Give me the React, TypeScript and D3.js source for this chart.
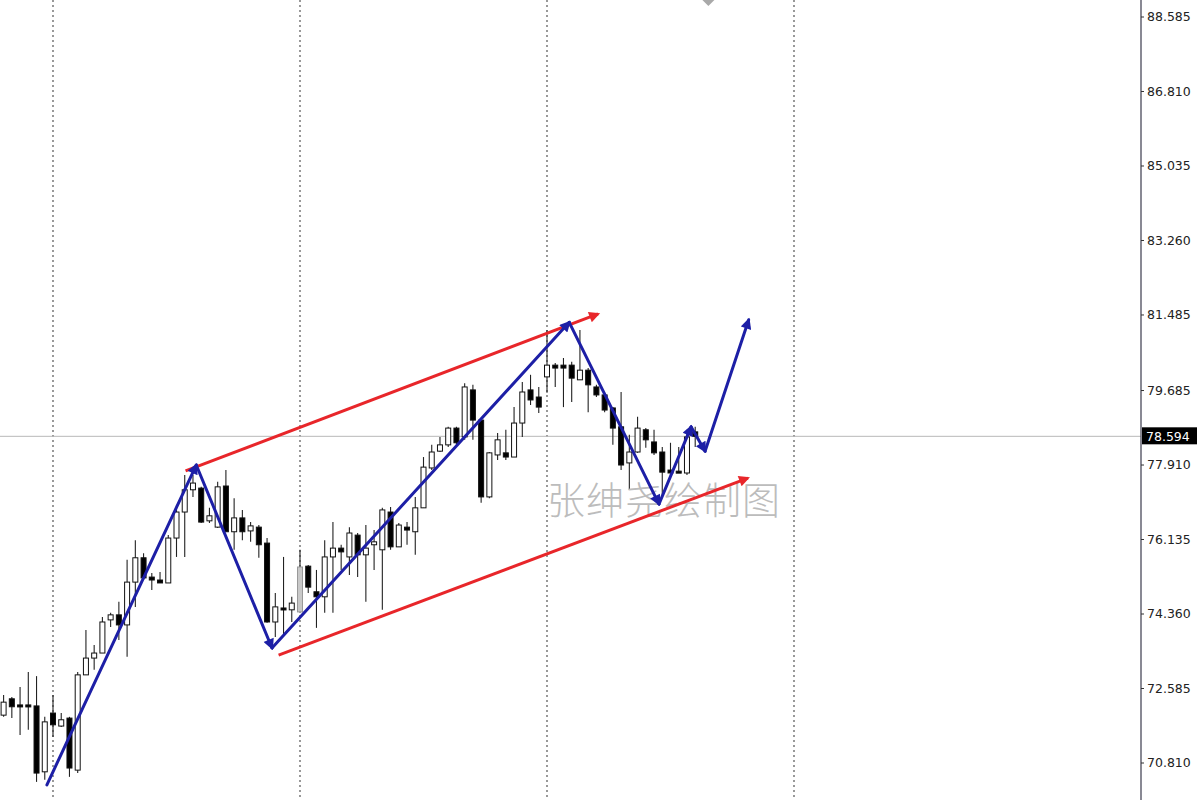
import React from 'react';
import * as d3 from 'd3';

const W = 1200;
const H = 800;

// Daily bars, oldest first
const opens = [
  71.95, 72.34, 72.19, 72.18, 72.17, 70.60, 72.00, 71.69, 71.88, 70.64,
  72.91, 73.31, 73.43, 74.22, 74.34, 74.10, 75.12, 75.70, 75.24, 75.17,
  75.10, 76.17, 76.79, 77.32, 77.36, 76.58, 76.43, 77.41, 76.32, 76.65,
  76.34, 76.43, 76.05, 74.17, 74.50, 74.46, 74.41, 75.50, 74.89, 74.77,
  75.72, 75.93, 75.72, 76.24, 75.77, 76.01, 75.89, 76.79, 75.96, 76.43,
  76.32, 76.89, 77.84, 78.24, 78.39, 78.79, 78.58, 79.70, 78.98, 77.15,
  78.15, 78.20, 78.10, 78.91, 79.70, 79.53, 80.01, 80.29, 80.29, 80.29,
  79.94, 80.17, 79.77, 79.58, 79.27, 78.82, 77.96, 78.22, 78.75, 78.46,
  78.22, 77.79, 77.75, 77.72, 78.70,
];
const highs = [
  72.43, 72.38, 72.62, 72.98, 72.88, 71.91, 72.43, 72.00, 71.91, 72.98,
  73.98, 73.62, 74.29, 74.39, 74.65, 75.65, 76.12, 75.81, 75.34, 75.36,
  76.24, 76.96, 77.67, 77.67, 77.39, 76.89, 77.51, 77.79, 77.12, 76.84,
  76.55, 76.48, 76.17, 74.86, 75.72, 74.77, 75.89, 75.53, 75.41, 76.12,
  76.55, 76.01, 76.43, 76.29, 76.48, 76.36, 76.89, 76.91, 76.53, 76.55,
  77.15, 78.10, 78.39, 78.58, 78.82, 78.82, 79.86, 79.82, 79.03, 78.22,
  78.67, 78.75, 79.29, 79.89, 80.06, 79.77, 81.13, 80.34, 80.46, 80.37,
  81.13, 80.22, 79.82, 79.63, 79.29, 79.65, 78.63, 79.06, 78.79, 78.75,
  78.34, 78.44, 78.34, 78.75, 78.82,
];
const lows = [
  71.91, 71.88, 71.48, 71.60, 70.36, 70.41, 71.43, 71.67, 70.48, 70.57,
  72.91, 73.03, 73.43, 74.05, 73.74, 73.34, 74.53, 75.17, 74.93, 75.10,
  75.10, 75.72, 75.72, 77.15, 76.53, 76.53, 76.41, 76.32, 75.89, 76.12,
  76.08, 75.70, 74.15, 73.81, 73.86, 74.17, 74.39, 74.86, 74.03, 74.39,
  74.39, 75.41, 75.29, 75.24, 74.65, 75.41, 74.46, 75.89, 75.96, 76.01,
  75.77, 76.89, 77.79, 78.22, 78.34, 78.39, 78.51, 78.51, 77.01, 77.12,
  78.03, 78.03, 78.10, 78.58, 79.34, 79.15, 79.63, 79.77, 79.29, 79.41,
  79.94, 79.17, 79.53, 79.17, 78.39, 77.79, 77.32, 78.20, 78.32, 78.15,
  77.15, 77.63, 77.72, 77.67, 78.34,
];
const closes = [
  72.26, 72.15, 72.15, 72.16, 70.57, 71.79, 71.72, 71.84, 70.69, 72.91,
  73.31, 73.43, 74.17, 74.34, 74.10, 75.12, 75.70, 75.22, 75.17, 75.10,
  76.17, 76.79, 77.32, 77.48, 76.55, 76.70, 77.39, 76.32, 76.65, 76.32,
  76.46, 76.01, 74.17, 74.53, 74.46, 74.62, 75.48, 75.00, 74.77, 75.72,
  75.93, 75.84, 76.29, 75.77, 75.93, 76.08, 76.84, 75.96, 76.48, 76.36,
  76.89, 77.86, 78.22, 78.39, 78.79, 78.44, 79.77, 78.98, 77.15, 78.20,
  78.51, 78.10, 78.91, 79.65, 79.46, 79.29, 80.29, 80.22, 80.22, 79.98,
  80.17, 79.82, 79.58, 79.22, 78.79, 77.91, 78.22, 78.79, 78.51, 78.20,
  77.74, 77.72, 77.73, 78.58, 78.594,
];
// bars drawn with a grey body (selected bar)
const greyBars = [36];

// price axis labels
const priceTicks = [88.585, 86.81, 85.035, 83.26, 81.485, 79.685, 77.91, 76.135, 74.36, 72.585, 70.81];
const lastPrice = 78.594;

// vertical period separators (bar index)
const separators = [6, 36, 66, 96];

// object marker above the chart (bar index)
const markerIdx = 85.6;

// wave path (bar index, price)
const waveIdx = [5.26, 23.4, 32.6, 68.7, 79.6, 83.5, 85.2, 90.5];
const wavePrice = [70.29, 77.91, 73.55, 81.31, 76.98, 78.82, 78.24, 81.37];

// channel lines
const upperIdx = [22.1, 72.2];
const upperPrice = [77.77, 81.51];
const lowerIdx = [33.4, 90.4];
const lowerPrice = [73.38, 77.6];

const watermark = '张绅尧绘制图';

const x = d3.scaleLinear().domain([6, 96]).range([53, 794]);
const y = d3.scaleLinear().domain([70.81, 88.585]).range([763, 17]);

const AXIS_X = 1141;
const BODY_W = 5;
const BLUE = '#1d1fa6';
const RED = '#e8262a';

export default function App() {
  const fmt = d3.format('.3f');
  const wavePts = waveIdx.map((v, i) => [x(v), y(wavePrice[i])]);
  const segs = wavePts.slice(1).map((p, i) => [wavePts[i], p]);
  const mx = x(markerIdx);

  return (
    <svg
      width={W}
      height={H}
      viewBox={`0 0 ${W} ${H}`}
      style={{ position: 'absolute', left: 0, top: 0, background: '#fff' }}
    >
      <defs>
        <marker id="blueHead" viewBox="0 0 10 10" refX="8" refY="5" markerUnits="userSpaceOnUse"
          markerWidth="13" markerHeight="11" orient="auto">
          <path d="M0,0 L10,5 L0,10 z" fill={BLUE} />
        </marker>
        <marker id="redHead" viewBox="0 0 10 10" refX="8" refY="5" markerUnits="userSpaceOnUse"
          markerWidth="15" markerHeight="11" orient="auto">
          <path d="M0,0 L10,5 L0,10 z" fill={RED} />
        </marker>
      </defs>
      <rect x={0} y={0} width={W} height={H} fill="#fff" />

      {/* period separators */}
      {separators.map((s) => (
        <line key={s} x1={x(s)} x2={x(s)} y1={0} y2={H} stroke="#555" strokeWidth={1.2}
          strokeDasharray="2,3" />
      ))}

      {/* last price line */}
      <line x1={0} x2={AXIS_X} y1={y(lastPrice)} y2={y(lastPrice)} stroke="#b8b8b8" strokeWidth={1} />

      {/* bars */}
      {opens.map((o, i) => {
        const c = closes[i];
        const cx = x(i);
        const top = y(Math.max(o, c));
        const bot = y(Math.min(o, c));
        const up = c >= o;
        const grey = greyBars.includes(i);
        const bh = Math.max(bot - top, 2);
        return (
          <g key={i}>
            <line x1={cx} x2={cx} y1={y(highs[i])} y2={y(lows[i])} stroke="#222" strokeWidth={1.1} />
            <rect
              x={cx - BODY_W / 2}
              y={top - (bh - (bot - top)) / 2}
              width={BODY_W}
              height={bh}
              fill={grey ? '#c8c8c8' : up ? '#fff' : '#000'}
              stroke={grey ? '#999' : '#111'}
              strokeWidth={1}
            />
          </g>
        );
      })}

      {/* object marker at the top edge */}
      <path d={`M${mx},${-10} L${mx + 8},${-2} L${mx},${6} L${mx - 8},${-2} z`} fill="#a9a9a9" />

      {/* watermark */}
      <text x={547} y={514} fontFamily="'Noto Sans CJK SC', sans-serif" fontWeight={300} fontSize={38}
        fill="#bcbcbc" letterSpacing={1}>
        {watermark}
      </text>

      {/* channel */}
      <line x1={x(upperIdx[0])} y1={y(upperPrice[0])} x2={x(upperIdx[1])} y2={y(upperPrice[1])}
        stroke={RED} strokeWidth={3} markerEnd="url(#redHead)" />
      <line x1={x(lowerIdx[0])} y1={y(lowerPrice[0])} x2={x(lowerIdx[1])} y2={y(lowerPrice[1])}
        stroke={RED} strokeWidth={3} markerEnd="url(#redHead)" />

      {/* wave */}
      {segs.map(([a, b], i) => (
        <line key={i} x1={a[0]} y1={a[1]} x2={b[0]} y2={b[1]} stroke={BLUE} strokeWidth={3}
          strokeLinecap="round" markerEnd="url(#blueHead)" />
      ))}

      {/* price axis */}
      <rect x={AXIS_X} y={0} width={W - AXIS_X} height={H} fill="#fff" />
      <line x1={AXIS_X} x2={AXIS_X} y1={0} y2={H} stroke="#4a4a5a" strokeWidth={1.3} />
      {priceTicks.map((t) => (
        <g key={t}>
          <line x1={AXIS_X} x2={AXIS_X + 3} y1={y(t)} y2={y(t)} stroke="#333" />
          <text x={AXIS_X + 6} y={y(t)} dy="0.35em" fontFamily="'DejaVu Sans', sans-serif" fontSize={12.5}
            fill="#222">
            {fmt(t)}
          </text>
        </g>
      ))}
      <rect x={AXIS_X + 1} y={y(lastPrice) - 9} width={55} height={17} fill="#000" />
      <text x={AXIS_X + 5} y={y(lastPrice)} dy="0.35em" fontFamily="'DejaVu Sans', sans-serif" fontSize={12.5}
        fill="#fff">
        {fmt(lastPrice)}
      </text>
    </svg>
  );
}
